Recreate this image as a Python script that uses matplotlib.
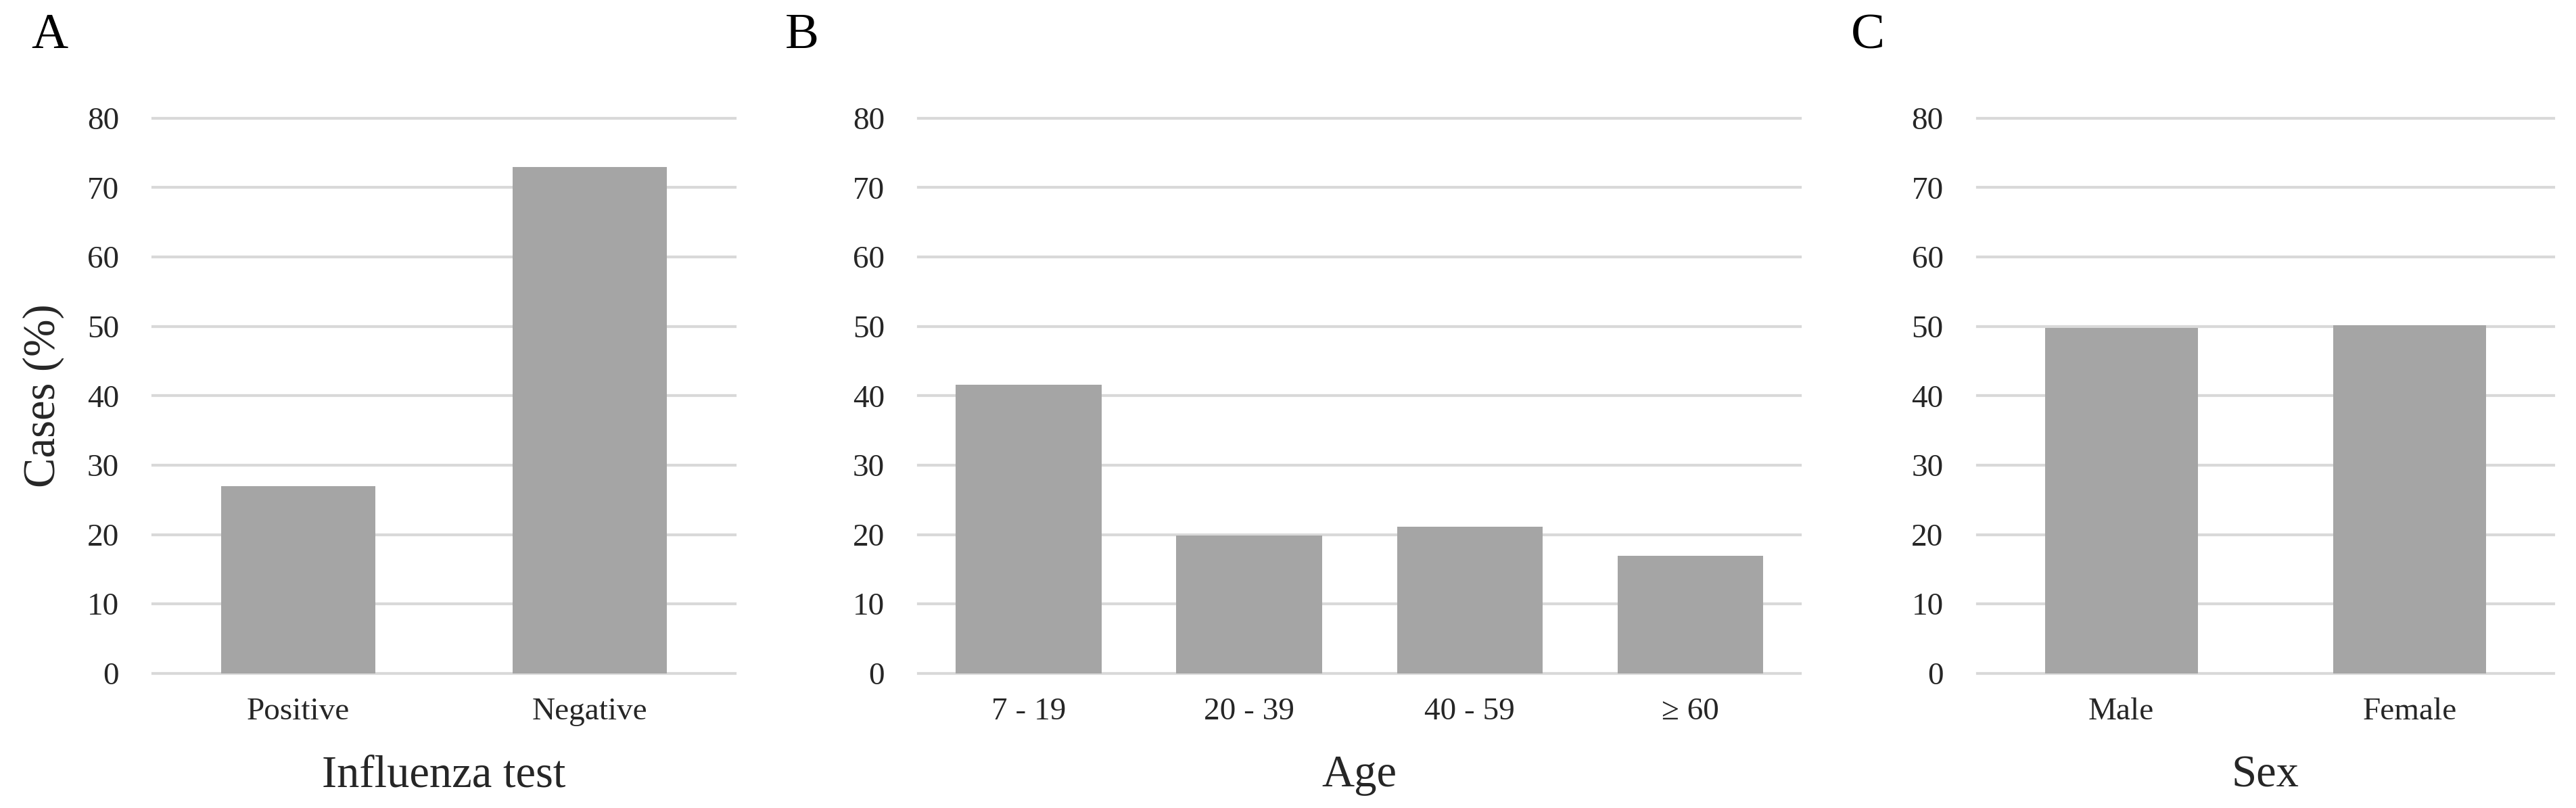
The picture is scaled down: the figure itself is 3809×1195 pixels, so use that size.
import matplotlib
matplotlib.use("Agg")
import matplotlib.pyplot as plt

# ---- data ----
flu_cats = ["Positive", "Negative"]
flu_vals = [27.0, 73.0]
age_cats = ["7 - 19", "20 - 39", "40 - 59", "\u2265 60"]
age_vals = [41.6, 19.9, 21.1, 16.9]
sex_cats = ["Male", "Female"]
sex_vals = [49.8, 50.2]
yticks = [0, 10, 20, 30, 40, 50, 60, 70, 80]

W, H = 3809, 1195
DPI = 100
plt.rcParams['font.family'] = ['Liberation Serif', 'DejaVu Serif']
fig = plt.figure(figsize=(W / DPI, H / DPI), dpi=DPI)

BAR = "#a5a5a5"
GRID = "#d9d9d9"
TXT = "#262626"

y0 = 1 - 410 / 492
y1 = 1 - 72 / 492

panels = [
    (93, 447.5, flu_cats, flu_vals, "Influenza test", "A", 30, 0.53),
    (559, 1096, age_cats, age_vals, "Age", "B", 488, 0.66),
    (1203.5, 1554.5, sex_cats, sex_vals, "Sex", "C", 1137, 0.53),
]

for i, (xa, xb, cats, vals, xlabel, letter, lx, bw) in enumerate(panels):
    ax = fig.add_axes([xa / 1568, y0, (xb - xa) / 1568, y1 - y0])
    pos = list(range(len(cats)))
    ax.bar(pos, vals, width=bw, color=BAR, zorder=3)
    ax.set_xlim(-0.5, len(cats) - 0.5)
    ax.set_ylim(0, 80)
    ax.set_yticks(yticks)
    ax.set_xticks(pos)
    ax.set_xticklabels(cats)
    for y in yticks:
        ax.axhline(y, color=GRID, lw=3, zorder=1, clip_on=False)
    for s in ax.spines.values():
        s.set_visible(False)
    ax.tick_params(axis='both', length=0, labelsize=34, colors=TXT)
    ax.tick_params(axis='y', pad=36)
    ax.tick_params(axis='x', pad=26)
    ax.set_xlabel(xlabel, fontsize=48, color=TXT, labelpad=30)
    if i == 0:
        ax.set_ylabel("Cases (%)", fontsize=48, color=TXT, labelpad=24)
    fig.text(lx / 1568, 1 - 22 / 492, letter, fontsize=54, ha='center', va='center', color='black')

fig.savefig("out.png", dpi=DPI, facecolor='white')
